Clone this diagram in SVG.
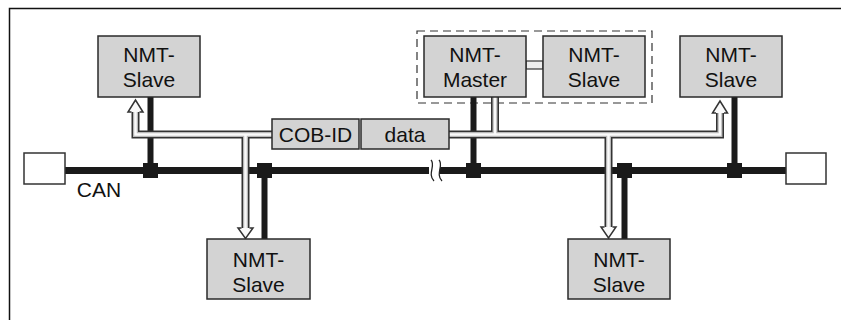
<svg xmlns="http://www.w3.org/2000/svg" width="841" height="320" viewBox="0 0 841 320">
<style>
.box{fill:#d3d3d3;stroke:#2a2a2a;stroke-width:1.5}
.t{font-family:"Liberation Sans",Arial,sans-serif;font-size:21px;fill:#111;text-anchor:middle}
.bus{stroke:#1a1a1a;stroke-width:7;fill:none}
.stub{stroke:#1a1a1a;stroke-width:6;fill:none}
.jn{fill:#1a1a1a}
.po{stroke:#333;stroke-width:8;fill:none}
.pm{stroke:#b8b8b8;stroke-width:5;fill:none}
.pi{stroke:#fafafa;stroke-width:2.5;fill:none}
.ah{fill:#fafafa;stroke:#333;stroke-width:1.5;stroke-linejoin:miter}
.term{fill:#fff;stroke:#333;stroke-width:1.5}
</style>
<path d="M9.5,320 V8.5 H841" fill="none" stroke="#111" stroke-width="1.5"/>
<rect x="417" y="31" width="235" height="72" fill="none" stroke="#333" stroke-width="1.2" stroke-dasharray="8,5"/>

<g id="connectors">
<path class="bus" d="M65,170.5 H429 M437,170.5 H786"/>
<path d="M431,160 C436,165 427,174 434,181 L442,181 C435,174 444,165 439,160 Z" fill="#fff"/>
<path d="M431,160 C436,165 427,174 434,181 M439,160 C444,165 435,174 442,181" fill="none" stroke="#222" stroke-width="1.3"/>
<path class="stub" d="M150.5,97 V170 M264.5,170 V239 M473.5,97 V170 M624.5,170 V239 M734.5,97 V170"/>
<rect class="jn" x="143" y="163" width="15" height="15"/>
<rect class="jn" x="257" y="163" width="15" height="15"/>
<rect class="jn" x="466" y="163" width="15" height="15"/>
<rect class="jn" x="617" y="163" width="15" height="15"/>
<rect class="jn" x="727" y="163" width="15" height="15"/>
<g id="pipes">
<path class="po" d="M272,134.5 H135.5 V112 M245.5,134.5 V228 M449,134.5 H720 V113 M495,97 V134.5 M608.5,134.5 V227"/>
<path class="pm" d="M272,134.5 H135.5 V112 M245.5,134.5 V228 M449,134.5 H720 V113 M495,97 V134.5 M608.5,134.5 V227"/>
<path class="pi" d="M272,134.5 H135.5 V112 M245.5,134.5 V228 M449,134.5 H720 V113 M495,97 V134.5 M608.5,134.5 V227"/>
<polyline class="ah" points="131.5,112 128,112 135.5,100 143,112 139.5,112"/>
<polyline class="ah" points="716,113 712.5,113 720,101 727.5,113 724,113"/>
<polyline class="ah" points="241.5,228 238,228 245.5,238.5 253,228 249.5,228"/>
<polyline class="ah" points="604.5,227 601,227 608.5,238 616,227 612.5,227"/>
</g>
<rect x="526" y="61" width="17" height="8" fill="#eee" stroke="#333" stroke-width="1.2"/>
</g>

<g id="termL"><rect class="term" x="24" y="153" width="41" height="31"/></g>
<g id="termR"><rect class="term" x="786" y="153" width="40" height="31"/></g>
<text class="t" x="99" y="197">CAN</text>

<g id="slave1"><rect class="box" x="98" y="36" width="102" height="61"/><text class="t" x="149" y="62">NMT-</text><text class="t" x="149" y="87">Slave</text></g>
<g id="master"><rect class="box" x="424" y="36" width="102" height="61"/><text class="t" x="475" y="62">NMT-</text><text class="t" x="475" y="87">Master</text></g>
<g id="slave2"><rect class="box" x="543" y="36" width="102" height="61"/><text class="t" x="594" y="62">NMT-</text><text class="t" x="594" y="87">Slave</text></g>
<g id="slave3"><rect class="box" x="680" y="36" width="102" height="61"/><text class="t" x="731" y="62">NMT-</text><text class="t" x="731" y="87">Slave</text></g>
<g id="slave4"><rect class="box" x="207" y="239" width="103" height="60"/><text class="t" x="258.5" y="267">NMT-</text><text class="t" x="258.5" y="292">Slave</text></g>
<g id="slave5"><rect class="box" x="568" y="239" width="102" height="60"/><text class="t" x="619" y="267">NMT-</text><text class="t" x="619" y="292">Slave</text></g>
<g id="cobid"><rect class="box" x="272" y="119" width="87" height="30"/><text class="t" x="315.5" y="142">COB-ID</text></g>
<g id="data"><rect class="box" x="361" y="119" width="88" height="30"/><text class="t" x="405" y="142">data</text></g>
</svg>
